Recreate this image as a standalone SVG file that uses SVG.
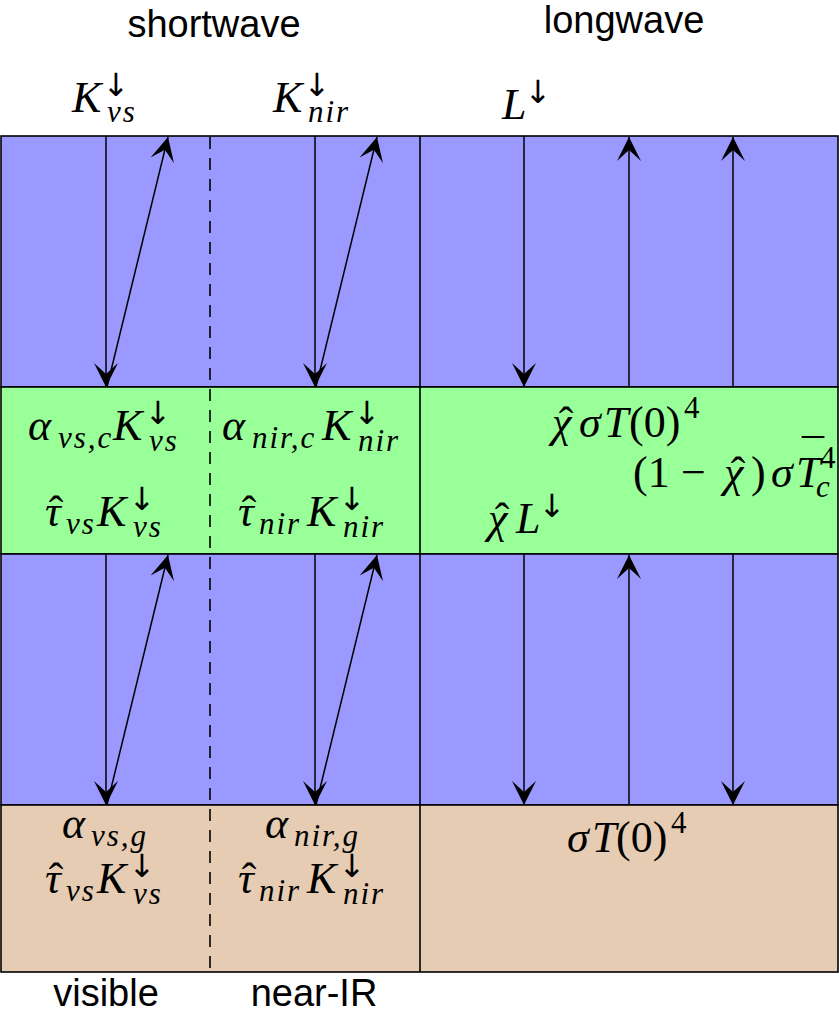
<svg xmlns="http://www.w3.org/2000/svg" width="839" height="1017" viewBox="0 0 839 1017">
<style>
.band{stroke:#000;stroke-width:1.6}
.ln{stroke:#000;stroke-width:1.6;fill:none}
.arw{stroke:#000;stroke-width:1.5;fill:none;marker-end:url(#ah)}
.m{font-family:"Liberation Serif","DejaVu Serif",serif;font-style:italic;font-size:44px;fill:#000}
.s{font-size:31px;letter-spacing:2px}
.r{font-style:normal}
.rs{font-style:normal;font-size:31px}
.a{font-family:"DejaVu Sans",sans-serif;font-style:normal;font-size:32px;text-anchor:middle}
.h{font-style:normal;text-anchor:middle}
.sans{font-family:"Liberation Sans",Arial,sans-serif;font-size:38px;fill:#000;text-anchor:middle}
</style>
<defs>
<marker id="ah" markerUnits="userSpaceOnUse" markerWidth="25" markerHeight="24" viewBox="0 0 25 24" refX="24" refY="12" orient="auto">
<path d="M0,0 L24,12 L0,24 L11,12 Z" fill="#000"/>
</marker>
</defs>
<g id="bands">
<rect id="sky-upper" class="band" x="1" y="136" width="837" height="251" fill="#9999ff"/>
<rect id="canopy" class="band" x="1" y="387" width="837" height="167" fill="#99ff99"/>
<rect id="sky-lower" class="band" x="1" y="554" width="837" height="251" fill="#9999ff"/>
<rect id="ground" class="band" x="1" y="805" width="837" height="167" fill="#e6ccb2"/>
<line class="ln" x1="420" y1="136" x2="420" y2="972"/>
<line class="ln" x1="210" y1="137" x2="210" y2="972" stroke-dasharray="12 9"/>
</g>
<g id="connectors">
<line class="arw" x1="106" y1="136" x2="106" y2="387"/>
<line class="arw" x1="107" y1="387" x2="168" y2="137"/>
<line class="arw" x1="315" y1="136" x2="315" y2="387"/>
<line class="arw" x1="316" y1="387" x2="377" y2="137"/>
<line class="arw" x1="524" y1="136" x2="524" y2="387"/>
<line class="arw" x1="629" y1="387" x2="629" y2="137"/>
<line class="arw" x1="733" y1="387" x2="733" y2="137"/>
<line class="arw" x1="106" y1="554" x2="106" y2="805"/>
<line class="arw" x1="107" y1="805" x2="168" y2="555"/>
<line class="arw" x1="315" y1="554" x2="315" y2="805"/>
<line class="arw" x1="316" y1="805" x2="377" y2="555"/>
<line class="arw" x1="524" y1="554" x2="524" y2="805"/>
<line class="arw" x1="629" y1="805" x2="629" y2="555"/>
<line class="arw" x1="733" y1="554" x2="733" y2="805"/>
</g>
<g id="headings">
<text class="sans" x="214" y="37">shortwave</text>
<text class="sans" x="624" y="33">longwave</text>
<text class="sans" x="106" y="1006">visible</text>
<text class="sans" x="314" y="1006">near-IR</text>
</g>
<g id="top-inputs">
<text class="m"><tspan x="72" y="112">K</tspan><tspan class="a" x="116" y="96">↓</tspan><tspan class="s" x="107" y="122">vs</tspan></text>
<text class="m"><tspan x="273" y="112">K</tspan><tspan class="a" x="317" y="96">↓</tspan><tspan class="s" x="308" y="122">nir</tspan></text>
<text class="m"><tspan x="502" y="119">L</tspan><tspan class="a" x="538" y="103">↓</tspan></text>
</g>
<g id="canopy-labels">
<text class="m"><tspan x="28" y="440">α</tspan><tspan class="s" x="58" y="448">vs,c</tspan><tspan x="113" y="440">K</tspan><tspan class="a" x="158" y="424">↓</tspan><tspan class="s" x="149" y="451">vs</tspan></text>
<text class="m"><tspan x="222" y="440">α</tspan><tspan class="s" x="252" y="448">nir,c</tspan><tspan x="322" y="440">K</tspan><tspan class="a" x="367" y="424">↓</tspan><tspan class="s" x="358" y="451">nir</tspan></text>
<text class="m"><tspan x="45" y="526">τ</tspan><tspan class="h" x="56" y="526">ˆ</tspan><tspan class="s" x="66" y="534">vs</tspan><tspan x="97" y="526">K</tspan><tspan class="a" x="142" y="510">↓</tspan><tspan class="s" x="133" y="537">vs</tspan></text>
<text class="m"><tspan x="238" y="526">τ</tspan><tspan class="h" x="249" y="526">ˆ</tspan><tspan class="s" x="259" y="534">nir</tspan><tspan x="307" y="526">K</tspan><tspan class="a" x="352" y="510">↓</tspan><tspan class="s" x="343" y="537">nir</tspan></text>
<text class="m"><tspan x="552" y="437">χ</tspan><tspan class="h" x="566" y="437">ˆ</tspan><tspan x="579" y="437">σ</tspan><tspan x="604" y="437">T</tspan><tspan class="r" x="629" y="437">(0)</tspan><tspan class="rs" x="684" y="418">4</tspan></text>
<text class="m"><tspan class="r" x="633" y="487">(1</tspan><tspan class="r" x="681" y="487">−</tspan><tspan x="724" y="487">χ</tspan><tspan class="h" x="738" y="487">ˆ</tspan><tspan class="r" x="751" y="487">)</tspan><tspan x="771" y="487">σ</tspan><tspan x="796" y="487">T</tspan><tspan class="h" x="813" y="470">¯</tspan><tspan class="rs" x="820" y="468">4</tspan><tspan class="s" x="816" y="497">c</tspan></text>
<text class="m"><tspan x="488" y="533">χ</tspan><tspan class="h" x="502" y="533">ˆ</tspan><tspan x="516" y="533">L</tspan><tspan class="a" x="552" y="517">↓</tspan></text>
</g>
<g id="ground-labels">
<text class="m"><tspan x="62" y="838">α</tspan><tspan class="s" x="91" y="846">vs,g</tspan></text>
<text class="m"><tspan x="265" y="838">α</tspan><tspan class="s" x="294" y="846">nir,g</tspan></text>
<text class="m"><tspan x="45" y="893">τ</tspan><tspan class="h" x="56" y="893">ˆ</tspan><tspan class="s" x="66" y="901">vs</tspan><tspan x="97" y="893">K</tspan><tspan class="a" x="142" y="877">↓</tspan><tspan class="s" x="133" y="904">vs</tspan></text>
<text class="m"><tspan x="238" y="893">τ</tspan><tspan class="h" x="249" y="893">ˆ</tspan><tspan class="s" x="259" y="901">nir</tspan><tspan x="307" y="893">K</tspan><tspan class="a" x="352" y="877">↓</tspan><tspan class="s" x="343" y="904">nir</tspan></text>
<text class="m"><tspan x="567" y="852">σ</tspan><tspan x="592" y="852">T</tspan><tspan class="r" x="616" y="852">(0)</tspan><tspan class="rs" x="671" y="833">4</tspan></text>
</g>
</svg>
